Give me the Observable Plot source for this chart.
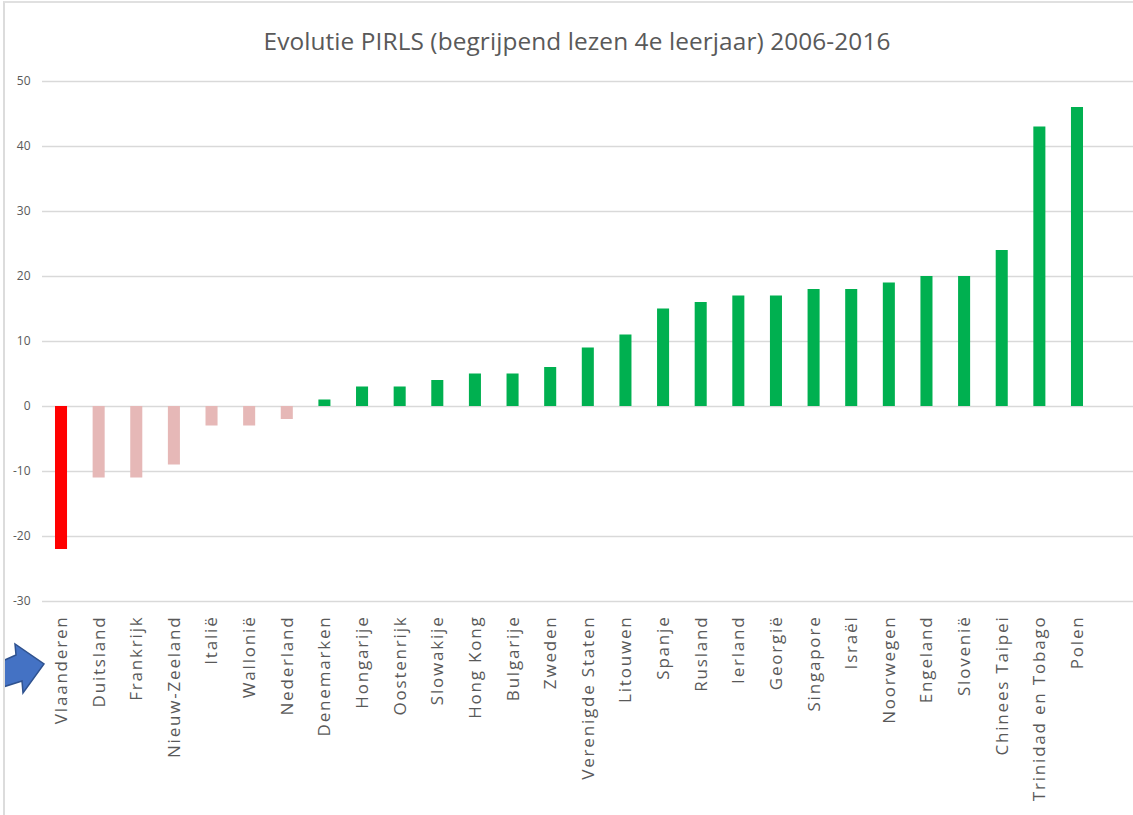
<!DOCTYPE html>
<html>
<head>
<meta charset="utf-8">
<script src="https://cdn.jsdelivr.net/npm/d3@7"></script>
<script src="https://cdn.jsdelivr.net/npm/@observablehq/plot@0.6"></script>
<style>
  html, body { margin: 0; padding: 0; background: #fff; }
  #wrap { position: relative; width: 1130px; height: 814px; overflow: hidden;
          border-left: 2px solid #dcdcdc; border-top: 2px solid #e0e0e0; box-sizing: border-box; margin-left: 3px; margin-top: 1px; }
  #title { height: 63px; box-sizing: border-box; padding-top: 22px; padding-left: 16px; font: 24.4px "Open Sans", sans-serif;
           line-height: 32px; color: #595959; text-align: center; letter-spacing: 0.1px; white-space: nowrap; }
  #arrow { position: absolute; left: -5px; top: -3px; }
</style>
</head>
<body>
<div id="wrap">
  <div id="title">Evolutie PIRLS (begrijpend lezen 4e leerjaar) 2006-2016</div>
  <div id="chart"></div>
</div>
<script>
const countries = ["Vlaanderen","Duitsland","Frankrijk","Nieuw-Zeeland","Italië","Wallonië","Nederland","Denemarken","Hongarije","Oostenrijk","Slowakije","Hong Kong","Bulgarije","Zweden","Verenigde Staten","Litouwen","Spanje","Rusland","Ierland","Georgië","Singapore","Israël","Noorwegen","Engeland","Slovenië","Chinees Taipei","Trinidad en Tobago","Polen"];
const changes = [-22,-11,-11,-9,-3,-3,-2,1,3,3,4,5,5,6,9,11,15,16,17,17,18,18,19,20,20,24,43,46];
const yTicks = [-30,-20,-10,0,10,20,30,40,50];
const highlight = "Vlaanderen";

const data = countries.map((c, i) => ({country: c, value: changes[i]}));
const fillOf = d => d.country === highlight ? "#FF0000" : d.value < 0 ? "#E6B8B7" : "#00B050";

const chart = Plot.plot({
  width: 1128,
  height: 749,
  marginLeft: 37,
  marginRight: 0,
  marginTop: 15,
  marginBottom: 214,
  style: {fontFamily: "'Open Sans', sans-serif", color: "#595959", background: "transparent"},
  x: {domain: countries, range: [37.2, 1090.8], paddingInner: 0.68, paddingOuter: 0.34, round: false, label: null},
  y: {domain: [-30, 50], nice: false, label: null},
  marks: [
    Plot.gridY(yTicks, {stroke: "#d9d9d9", strokeOpacity: 1, strokeWidth: 1.5}),
    Plot.axisY({ticks: yTicks, tickSize: 0, tickPadding: 12, fontSize: 12, tickFormat: d => String(d), label: null}),
    Plot.barY(data, {x: "country", y: "value", fill: fillOf}),
    Plot.axisX({tickSize: 0, tickRotate: -90, tickPadding: 14, fontSize: 17, label: null})
  ]
});
d3.select(chart).selectAll("g[aria-label='x-axis tick label'] text").style("letter-spacing", "1.8px");
document.getElementById("chart").appendChild(chart);

// block arrow annotation pointing at the highlighted country
const svg = d3.select("#wrap").append("svg").attr("id", "arrow").attr("width", 60).attr("height", 815);
svg.append("polygon")
  .attr("points", "0,662 16,655 15,644 44,664 23,693 22,681 0,688")
  .attr("fill", "#4472C4").attr("stroke", "#2F528F").attr("stroke-width", 1.5).attr("stroke-linejoin", "miter");
</script>
</body>
</html>
